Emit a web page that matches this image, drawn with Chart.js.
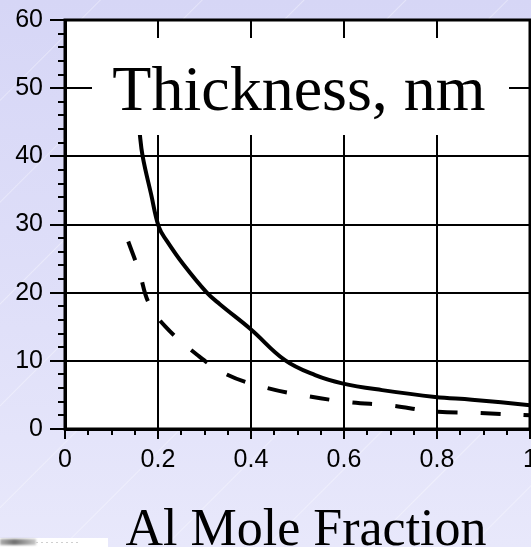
<!DOCTYPE html>
<html>
<head>
<meta charset="utf-8">
<script src="https://cdn.jsdelivr.net/npm/chart.js@4.4.1/dist/chart.umd.min.js"></script>
<style>
  html, body {
    margin: 0;
    padding: 0;
    width: 531px;
    height: 547px;
    overflow: hidden;
  }
  body {
    position: relative;
    background:
      repeating-linear-gradient(135deg, rgba(255,255,255,0) 0px, rgba(255,255,255,0) 70px, rgba(255,255,255,0.35) 71px, rgba(255,255,255,0) 72px),
      linear-gradient(180deg, #d6d6f6 0%, #e0e0f9 60%, #e8e8fb 100%);
  }
  #wrap {
    position: absolute;
    left: 0;
    top: 0;
    width: 531px;
    height: 547px;
  }
  .thumb {
    position: absolute;
    left: 0;
    top: 538px;
    width: 108px;
    height: 9px;
    background: #fff;
  }
  .thumb::before {
    content: '';
    position: absolute;
    left: 0;
    top: 1px;
    width: 36px;
    height: 6px;
    background: linear-gradient(90deg, #b0b0b0 0%, #707070 40%, #c8c8c8 100%);
    filter: blur(1px);
  }
  .thumb::after {
    content: '';
    position: absolute;
    left: 36px;
    top: 4px;
    width: 42px;
    height: 1px;
    background: repeating-linear-gradient(90deg, #cfcfcf 0 2px, transparent 2px 5px);
  }
</style>
</head>
<body>
<div id="wrap"><canvas id="thicknessChart" width="531" height="547"></canvas></div>
<div class="thumb"></div>
<script>
// solid curve
const solidX = [0.158, 0.161, 0.167, 0.185, 0.202, 0.219, 0.254, 0.305, 0.333, 0.400, 0.473, 0.538, 0.596, 0.682, 0.796, 0.875, 1.000];
const solidY = [46.0, 43.2, 40.0, 34.5, 29.6, 27.6, 24.2, 20.0, 18.3, 14.6, 10.1, 7.9, 6.7, 5.7, 4.7, 4.3, 3.5];

// dashed curve
const dashX = [0.136, 0.160, 0.180, 0.215, 0.284, 0.348, 0.430, 0.515, 0.610, 0.700, 0.790, 0.890, 1.000];
const dashY = [27.5, 23.0, 18.5, 15.1, 10.9, 8.0, 6.1, 4.9, 3.95, 3.45, 2.6, 2.35, 2.0];

const xTicks = [0, 0.2, 0.4, 0.6, 0.8, 1];
const yTicks = [0, 10, 20, 30, 40, 50, 60];

const yTitle = 'Thickness, nm';
const xTitle = 'Al Mole Fraction';

const serif = "'Times New Roman', 'Liberation Serif', serif";
const sans = "Arial, 'Liberation Sans', sans-serif";

function toPoints(xs, ys) {
    return xs.map((x, i) => ({ x: x, y: ys[i] }));
}

// white plot background, label box, frame and minor ticks
const plotDecor = {
    id: 'plotDecor',
    beforeDraw(chart) {
        const { ctx, chartArea: a } = chart;
        ctx.save();
        ctx.fillStyle = '#ffffff';
        ctx.fillRect(a.left, a.top, a.right - a.left, a.bottom - a.top);
        ctx.restore();
    },
    afterDatasetsDraw(chart) {
        const { ctx } = chart;
        // box behind the inner label
        ctx.save();
        ctx.fillStyle = '#ffffff';
        ctx.fillRect(92, 38, 417, 97);
        ctx.fillStyle = '#000';
        ctx.font = '64px ' + serif;
        ctx.textAlign = 'center';
        ctx.textBaseline = 'alphabetic';
        ctx.fillText(yTitle, 299, 110);
        ctx.restore();
    },
    afterDraw(chart) {
        const { ctx, chartArea: a } = chart;
        const xs = chart.scales.x;
        const ys = chart.scales.y;
        ctx.save();
        ctx.strokeStyle = '#000';
        ctx.lineWidth = 2;
        ctx.beginPath();
        for (let v = 0.05; v < 1; v += 0.05) {
            if (Math.abs(v / 0.2 - Math.round(v / 0.2)) < 1e-6) continue;
            const px = Math.round(xs.getPixelForValue(v));
            ctx.moveTo(px, a.bottom);
            ctx.lineTo(px, a.bottom + 6);
        }
        for (let v = 2; v < 60; v += 2) {
            if (v % 10 === 0) continue;
            const py = Math.round(ys.getPixelForValue(v));
            ctx.moveTo(a.left - 7, py);
            ctx.lineTo(a.left, py);
        }
        ctx.stroke();

        ctx.lineWidth = 3;
        ctx.strokeRect(a.left, a.top, a.right - a.left, a.bottom - a.top);

        ctx.fillStyle = '#000';
        ctx.font = '52px ' + serif;
        ctx.textAlign = 'center';
        ctx.textBaseline = 'alphabetic';
        ctx.fillText(xTitle, 306, 545);
        ctx.restore();
    }
};

const ctx = document.getElementById('thicknessChart').getContext('2d');
new Chart(ctx, {
    type: 'line',
    data: {
        datasets: [{
            data: toPoints(solidX, solidY),
            borderColor: '#000',
            borderWidth: 4,
            pointRadius: 0,
            tension: 0.4,
            fill: false
        }, {
            data: toPoints(dashX, dashY),
            borderColor: '#000',
            borderWidth: 4,
            borderDash: [20, 23],
            borderCapStyle: 'butt',
            pointRadius: 0,
            tension: 0.4,
            fill: false
        }]
    },
    options: {
        responsive: false,
        animation: false,
        layout: { padding: { top: 20, right: 1, left: 0, bottom: 0 } },
        plugins: {
            legend: { display: false },
            tooltip: { enabled: false }
        },
        scales: {
            x: {
                type: 'linear',
                min: 0,
                max: 1,
                afterBuildTicks: scale => { scale.ticks = xTicks.map(v => ({ value: v })); },
                afterFit: scale => {
                    scale.height = 118;
                    scale.paddingLeft = 0;
                    scale.paddingRight = 0;
                },
                ticks: {
                    color: '#000',
                    font: { family: sans, size: 25 },
                    padding: 6,
                    maxRotation: 0,
                    autoSkip: false,
                    callback: v => String(Number(v.toFixed(1)))
                },
                grid: { color: '#000', lineWidth: 2, tickLength: 10 },
                border: { color: '#000', width: 3 }
            },
            y: {
                type: 'linear',
                min: 0,
                max: 60,
                afterBuildTicks: scale => { scale.ticks = yTicks.map(v => ({ value: v })); },
                afterFit: scale => {
                    scale.width = 65;
                    scale.paddingTop = 0;
                    scale.paddingBottom = 0;
                },
                ticks: {
                    color: '#000',
                    font: { family: sans, size: 25 },
                    padding: 7,
                    autoSkip: false
                },
                grid: { color: '#000', lineWidth: 2, tickLength: 15 },
                border: { color: '#000', width: 3 }
            }
        }
    },
    plugins: [plotDecor]
});
</script>
</body>
</html>
